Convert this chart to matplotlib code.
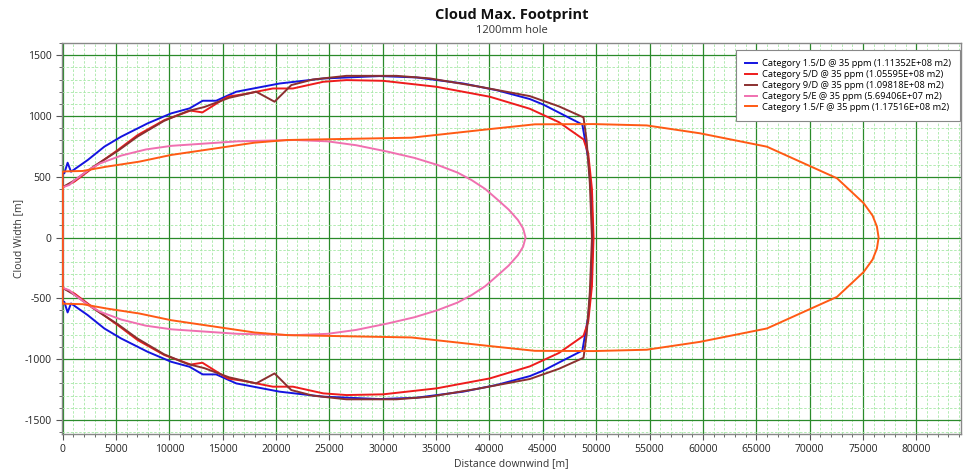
import matplotlib
matplotlib.use("Agg")
import matplotlib.pyplot as plt
from matplotlib.ticker import MultipleLocator

plt.rcParams["font.family"] = ["Open Sans", "DejaVu Sans"]
plt.rcParams["axes.unicode_minus"] = False

# upper half of each footprint (x downwind [m], half width [m]); lower half is mirrored
blue_x = [0, 160, 470, 790, 2350, 3910, 5480, 7970, 10170, 11890, 13130, 14390, 16270,
          20330, 24420, 29710, 33150, 37530, 40660, 43780, 45030, 48700, 49250, 49550, 49700]
blue_y = [529, 529, 616, 542, 638, 748, 830, 940, 1022, 1063, 1126, 1126, 1200,
          1268, 1309, 1329, 1318, 1268, 1213, 1140, 1095, 930, 650, 350, 0]

red_x = [0, 1100, 2970, 5160, 7040, 9540, 12000, 13100, 14700, 15500, 17000, 19700, 21580,
         24420, 26600, 30030, 35030, 40030, 43780, 46500, 48810, 49250, 49600, 49750]
red_y = [414, 460, 583, 720, 844, 967, 1045, 1030, 1118, 1160, 1180, 1227, 1227,
         1282, 1296, 1290, 1241, 1159, 1060, 950, 808, 693, 400, 0]

brown_x = [0, 1100, 3000, 5200, 7000, 9500, 11700, 13300, 15600, 18140, 19860, 21430,
           23460, 26600, 31290, 34400, 39090, 43780, 46500, 48810, 49100, 49400, 49600]
brown_y = [414, 470, 590, 715, 830, 960, 1040, 1075, 1150, 1200, 1118, 1255,
           1301, 1331, 1331, 1310, 1241, 1164, 1080, 989, 800, 450, 0]

pink_x = [0, 630, 1100, 2500, 3500, 5500, 7800, 10200, 16400, 21740, 24830, 27500,
          30460, 33000, 35150, 37000, 38310, 39600, 40780, 41800, 42660, 43150, 43380]
pink_y = [414, 433, 470, 560, 610, 675, 725, 755, 792, 803, 792, 760,
          707, 655, 597, 535, 474, 400, 310, 230, 145, 75, 0]

orange_x = [0, 300, 1870, 4070, 7200, 10170, 17980, 21080, 32680, 39840, 44250, 49750,
            54730, 59730, 65990, 72560, 75060, 75900, 76300, 76460]
orange_y = [542, 545, 548, 583, 625, 680, 781, 803, 822, 891, 932, 934,
            923, 858, 748, 488, 283, 180, 90, 0]

labels = [
    "Category 1.5/D @ 35 ppm (1.11352E+08 m2)",
    "Category 5/D @ 35 ppm (1.05595E+08 m2)",
    "Category 9/D @ 35 ppm (1.09818E+08 m2)",
    "Category 5/E @ 35 ppm (5.69406E+07 m2)",
    "Category 1.5/F @ 35 ppm (1.17516E+08 m2)",
]
colors = ["#1414e0", "#ee1c1c", "#8b3030", "#f070b0", "#ff5a14"]


def closed(xs, ys):
    # go up the x=0 edge, along the top, round the tip, back along the bottom
    px = [0] + xs + xs[-2::-1]
    py = [-ys[0]] + ys + [-v for v in ys[-2::-1]]
    return px, py


fig = plt.figure(figsize=(9.68, 4.69), dpi=100, facecolor="white")
ax = fig.add_axes([0.064, 0.075, 0.929, 0.833])

series = [(blue_x, blue_y), (red_x, red_y), (brown_x, brown_y), (pink_x, pink_y), (orange_x, orange_y)]
for (xs, ys), lab, col in zip(series, labels, colors):
    px, py = closed(xs, ys)
    ax.plot(px, py, color=col, linewidth=1.4, label=lab, zorder=3)

ax.set_xlim(-60, 84200)
ax.set_ylim(-1615, 1600)
ax.xaxis.set_major_locator(MultipleLocator(5000))
ax.xaxis.set_minor_locator(MultipleLocator(1000))
ax.yaxis.set_major_locator(MultipleLocator(500))
ax.yaxis.set_minor_locator(MultipleLocator(100))
ax.grid(which="minor", color="#a6e8a6", linewidth=0.6, linestyle=(0, (3, 2)), zorder=0)
ax.grid(which="major", color="#2a8a2a", linewidth=0.9, zorder=1)
ax.set_axisbelow(True)

ax.tick_params(which="both", direction="out", colors="#555555", labelsize=7.5, labelcolor="#222222")
ax.tick_params(which="major", length=4)
ax.tick_params(which="minor", length=2)
for s in ax.spines.values():
    s.set_color("#888888")
    s.set_linewidth(1.0)

ax.set_xlabel("Distance downwind [m]", fontsize=7.5, color="#333333", labelpad=2)
ax.set_ylabel("Cloud Width [m]", fontsize=7.5, color="#333333", labelpad=0)

fig.text(0.529, 0.968, "Cloud Max. Footprint", ha="center", va="center",
         fontsize=10.5, fontweight="bold", color="#111111")
fig.text(0.529, 0.934, "1200mm hole", ha="center", va="center", fontsize=8, color="#333333")

leg = ax.legend(loc="upper right", bbox_to_anchor=(1.0, 0.985), fontsize=6.7, frameon=True,
                fancybox=False, edgecolor="#888888", framealpha=1.0, handlelength=1.3,
                handletextpad=0.5, borderpad=1.0, labelspacing=0.2, borderaxespad=0.1)
leg.get_frame().set_linewidth(0.8)

fig.savefig("out.png", dpi=100, facecolor="white")
